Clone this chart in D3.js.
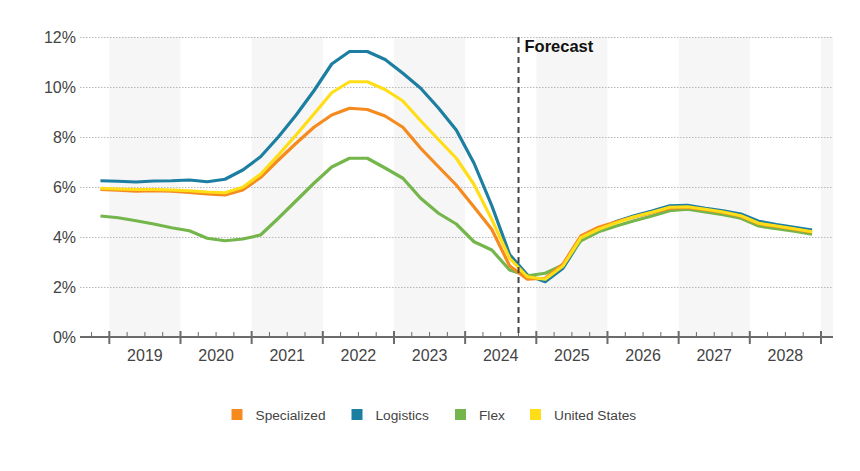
<!DOCTYPE html>
<html><head><meta charset="utf-8">
<script src="https://cdn.jsdelivr.net/npm/d3@7"></script>
<style>
html,body{margin:0;padding:0;background:#fff;}
svg{display:block;font-family:"Liberation Sans",Arial,sans-serif;}
</style></head>
<body><svg id="chart" width="860" height="471"></svg>
<script>
// quarter labels 2018Q4 .. 2028Q4
const quarters = ["2018Q4","2019Q1","2019Q2","2019Q3","2019Q4","2020Q1","2020Q2","2020Q3","2020Q4","2021Q1","2021Q2","2021Q3","2021Q4","2022Q1","2022Q2","2022Q3","2022Q4","2023Q1","2023Q2","2023Q3","2023Q4","2024Q1","2024Q2","2024Q3","2024Q4","2025Q1","2025Q2","2025Q3","2025Q4","2026Q1","2026Q2","2026Q3","2026Q4","2027Q1","2027Q2","2027Q3","2027Q4","2028Q1","2028Q2","2028Q3","2028Q4"];
const specialized = [5.9,5.87,5.83,5.85,5.83,5.78,5.72,5.68,5.88,6.38,7.08,7.75,8.39,8.88,9.15,9.1,8.84,8.39,7.55,6.81,6.08,5.2,4.3,2.85,2.31,2.35,2.92,4.04,4.39,4.61,4.8,4.97,5.15,5.18,5.09,4.98,4.83,4.53,4.42,4.31,4.19];
const logistics = [6.25,6.23,6.2,6.24,6.25,6.28,6.21,6.31,6.68,7.21,8.0,8.88,9.85,10.92,11.42,11.42,11.1,10.55,9.95,9.16,8.28,6.95,5.25,3.3,2.48,2.21,2.75,3.88,4.28,4.62,4.85,5.04,5.25,5.27,5.15,5.05,4.92,4.63,4.5,4.39,4.28];
const flex = [4.84,4.77,4.65,4.52,4.37,4.25,3.95,3.85,3.92,4.08,4.75,5.45,6.15,6.8,7.15,7.15,6.76,6.35,5.55,4.95,4.52,3.81,3.48,2.68,2.45,2.55,2.88,3.85,4.21,4.44,4.65,4.84,5.05,5.11,5.0,4.89,4.75,4.44,4.33,4.23,4.11];
const unitedStates = [5.95,5.92,5.9,5.9,5.88,5.85,5.8,5.77,5.99,6.51,7.28,8.08,8.92,9.77,10.21,10.21,9.9,9.44,8.65,7.9,7.15,6.1,4.7,3.15,2.41,2.31,2.84,3.97,4.31,4.57,4.81,4.99,5.19,5.21,5.11,5.0,4.85,4.55,4.44,4.33,4.21];
const years = [2019,2020,2021,2022,2023,2024,2025,2026,2027,2028];
const yTicks = [0,2,4,6,8,10,12];
const forecastStart = "2024Q4";
const seriesNames = ["Specialized","Logistics","Flex","United States"];

const colors = {"Specialized":"#f58a1f","Logistics":"#1c7ea1","Flex":"#74b64b","United States":"#ffde17"};
const seriesData = {"Specialized":specialized,"Logistics":logistics,"Flex":flex,"United States":unitedStates};

function qTime(q){ const y=+q.slice(0,4), n=+q.slice(5); return y+(n-1)/4; }

const svg = d3.select("#chart");
const x = d3.scaleLinear().domain([2018.588, 2029.169]).range([80, 833]);
const y = d3.scaleLinear().domain([0, 12]).range([337, 37]);

// shaded alternate years
const shaded = [2019,2021,2023,2025,2027,2029];
svg.append("g").selectAll("rect").data(shaded).join("rect")
  .attr("x", d=>x(d)).attr("y", y(12))
  .attr("width", d=>Math.min(x(d+1), x.range()[1]) - x(d))
  .attr("height", y(0)-y(12))
  .attr("fill", "#f6f6f6");

// gridlines
svg.append("g").selectAll("line").data(yTicks.filter(d=>d>0)).join("line")
  .attr("x1", 80).attr("x2", 833)
  .attr("y1", d=>y(d)+0.5).attr("y2", d=>y(d)+0.5)
  .attr("stroke", "#b8b8b8").attr("stroke-width", 1).attr("stroke-dasharray", "1.5,1.5");

// y labels
svg.append("g").selectAll("text").data(yTicks).join("text")
  .attr("x", 76).attr("y", d=>y(d)).attr("dy", "0.35em")
  .attr("text-anchor", "end").attr("font-size", 16).attr("fill", "#444")
  .text(d=>d+"%");

// lines
const line = d3.line().x((d,i)=>x(qTime(quarters[i])+0.125)).y(d=>y(d));
const order = ["Logistics","Flex","Specialized","United States"];
svg.append("g").selectAll("path").data(order).join("path")
  .attr("d", n=>line(seriesData[n]))
  .attr("fill","none").attr("stroke", n=>colors[n])
  .attr("stroke-width", 3.2).attr("stroke-linejoin","round");

// x axis
const ax = svg.append("g");
ax.append("line").attr("x1",80).attr("x2",833).attr("y1",337).attr("y2",337)
  .attr("stroke","#6b6b6b").attr("stroke-width",2);
const minor = d3.range(2018.75, 2029.01, 0.25).filter(t=>Math.abs(t-Math.round(t))>0.01);
ax.selectAll("line.minor").data(minor).join("line").attr("class","minor")
  .attr("x1",d=>x(d)).attr("x2",d=>x(d)).attr("y1",332).attr("y2",337)
  .attr("stroke","#6b6b6b").attr("stroke-width",1);
const major = years.concat([2029]);
ax.selectAll("line.major").data(major).join("line").attr("class","major")
  .attr("x1",d=>x(d)).attr("x2",d=>x(d)).attr("y1",331).attr("y2",344)
  .attr("stroke","#6b6b6b").attr("stroke-width",2);
ax.selectAll("text").data(years).join("text")
  .attr("x",d=>x(d+0.5)).attr("y",361).attr("text-anchor","middle")
  .attr("font-size",16).attr("fill","#444").text(d=>d);

// forecast line
const fx = x(qTime(forecastStart));
svg.append("line").attr("x1",fx).attr("x2",fx).attr("y1",37).attr("y2",337)
  .attr("stroke","#444").attr("stroke-width",2).attr("stroke-dasharray","6,4");
svg.append("text").attr("x",fx+6).attr("y",52).attr("font-size",16.5)
  .attr("font-weight","bold").attr("fill","#111").text("Forecast");

// legend
const legX = [231.5, 351.5, 455, 530];
const lg = svg.append("g").selectAll("g").data(seriesNames).join("g")
  .attr("transform",(d,i)=>`translate(${legX[i]},409)`);
lg.append("rect").attr("width",11).attr("height",11).attr("fill",d=>colors[d]);
lg.append("text").attr("x",24).attr("y",10.5).attr("font-size",13.7).attr("fill","#444").text(d=>d);
</script></body></html>
